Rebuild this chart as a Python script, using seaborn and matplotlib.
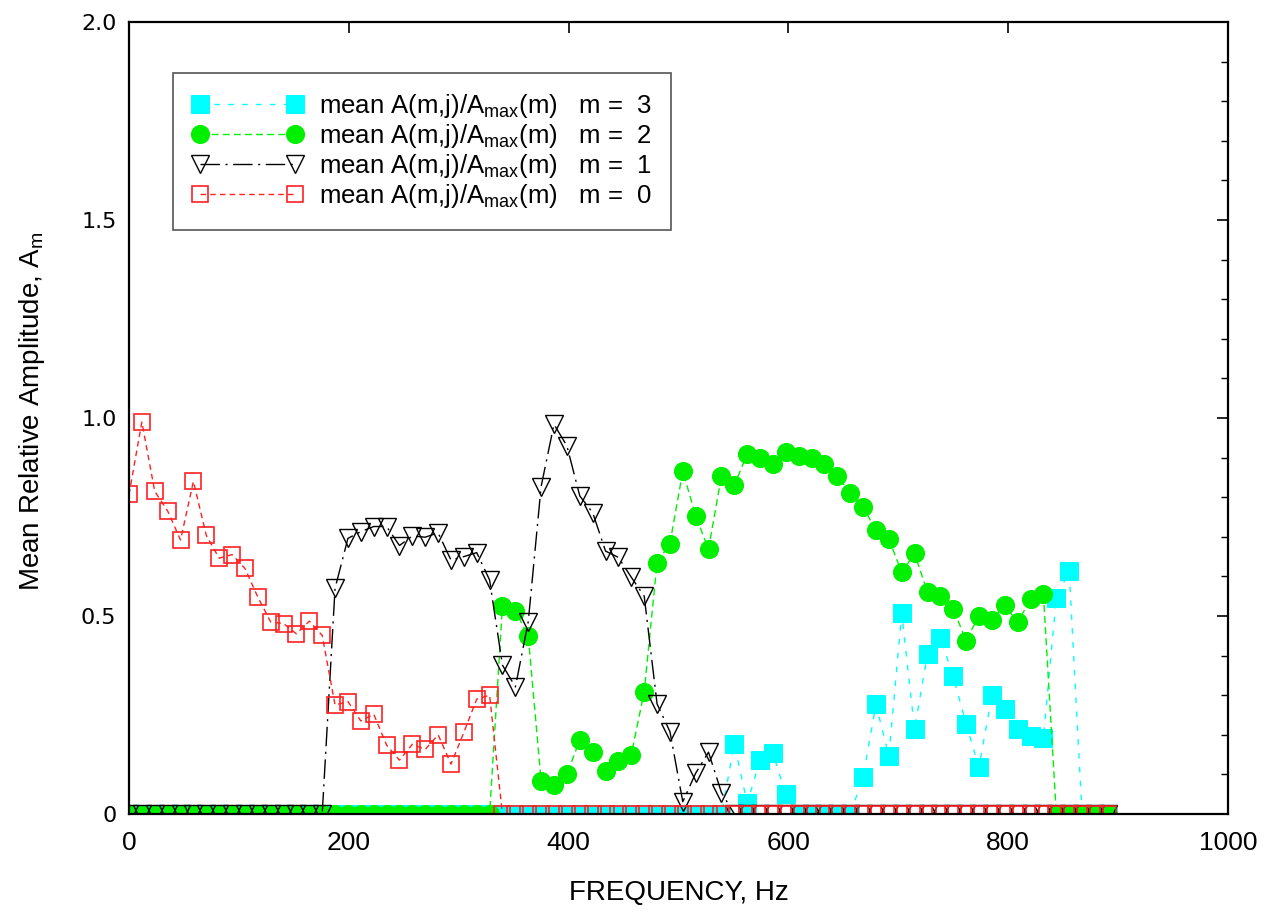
import numpy as np
import pandas as pd
import matplotlib
matplotlib.use("Agg")
import matplotlib.pyplot as plt
from matplotlib.ticker import MultipleLocator, FixedLocator, FuncFormatter
import seaborn as sns

# ---- data -------------------------------------------------------------
freq_hz = [0.0, 11.7, 23.4, 35.2, 46.9, 58.6, 70.3, 82.0, 93.8, 105.5,
           117.2, 128.9, 140.6, 152.3, 164.1, 175.8, 187.5, 199.2, 210.9, 222.7,
           234.4, 246.1, 257.8, 269.5, 281.3, 293.0, 304.7, 316.4, 328.1, 339.8,
           351.6, 363.3, 375.0, 386.7, 398.4, 410.2, 421.9, 433.6, 445.3, 457.0,
           468.8, 480.5, 492.2, 503.9, 515.6, 527.3, 539.1, 550.8, 562.5, 574.2,
           585.9, 597.7, 609.4, 621.1, 632.8, 644.5, 656.3, 668.0, 679.7, 691.4,
           703.1, 714.8, 726.6, 738.3, 750.0, 761.7, 773.4, 785.2, 796.9, 808.6,
           820.3, 832.0, 843.8, 855.5, 867.2, 878.9, 890.6]

amp_m0 = [0.807, 0.99, 0.815, 0.765, 0.692, 0.84, 0.704, 0.646, 0.655, 0.62,
          0.548, 0.485, 0.481, 0.455, 0.487, 0.451, 0.275, 0.284, 0.235, 0.252,
          0.174, 0.136, 0.176, 0.163, 0.20, 0.126, 0.206, 0.29, 0.30, 0.0,
          0.0, 0.0, 0.0, 0.0, 0.0, 0.0, 0.0, 0.0, 0.0, 0.0,
          0.0, 0.0, 0.0, 0.0, 0.0, 0.0, 0.0, 0.0, 0.0, 0.0,
          0.0, 0.0, 0.0, 0.0, 0.0, 0.0, 0.0, 0.0, 0.0, 0.0,
          0.0, 0.0, 0.0, 0.0, 0.0, 0.0, 0.0, 0.0, 0.0, 0.0,
          0.0, 0.0, 0.0, 0.0, 0.0, 0.0, 0.0]

amp_m1 = [0.0, 0.0, 0.0, 0.0, 0.0, 0.0, 0.0, 0.0, 0.0, 0.0,
          0.0, 0.0, 0.0, 0.0, 0.0, 0.0, 0.57, 0.696, 0.713, 0.726,
          0.726, 0.678, 0.702, 0.699, 0.71, 0.641, 0.65, 0.66, 0.591, 0.376,
          0.321, 0.486, 0.827, 0.984, 0.93, 0.803, 0.761, 0.664, 0.648, 0.598,
          0.55, 0.278, 0.208, 0.031, 0.103, 0.156, 0.054, 0.0, 0.0, 0.0,
          0.0, 0.0, 0.0, 0.0, 0.0, 0.0, 0.0, 0.0, 0.0, 0.0,
          0.0, 0.0, 0.0, 0.0, 0.0, 0.0, 0.0, 0.0, 0.0, 0.0,
          0.0, 0.0, 0.0, 0.0, 0.0, 0.0, 0.0]

amp_m2 = [0.0, 0.0, 0.0, 0.0, 0.0, 0.0, 0.0, 0.0, 0.0, 0.0,
          0.0, 0.0, 0.0, 0.0, 0.0, 0.0, 0.0, 0.0, 0.0, 0.0,
          0.0, 0.0, 0.0, 0.0, 0.0, 0.0, 0.0, 0.0, 0.0, 0.524,
          0.513, 0.449, 0.083, 0.072, 0.10, 0.187, 0.156, 0.109, 0.134, 0.149,
          0.309, 0.635, 0.683, 0.866, 0.753, 0.669, 0.854, 0.830, 0.909, 0.898,
          0.883, 0.915, 0.905, 0.898, 0.884, 0.854, 0.81, 0.775, 0.717, 0.695,
          0.61, 0.658, 0.56, 0.55, 0.518, 0.438, 0.501, 0.49, 0.527, 0.484,
          0.542, 0.556, 0.0, 0.0, 0.0, 0.0, 0.0]

amp_m3 = [0.0, 0.0, 0.0, 0.0, 0.0, 0.0, 0.0, 0.0, 0.0, 0.0,
          0.0, 0.0, 0.0, 0.0, 0.0, 0.0, 0.0, 0.0, 0.0, 0.0,
          0.0, 0.0, 0.0, 0.0, 0.0, 0.0, 0.0, 0.0, 0.0, 0.0,
          0.0, 0.0, 0.0, 0.0, 0.0, 0.0, 0.0, 0.0, 0.0, 0.0,
          0.0, 0.0, 0.0, 0.0, 0.0, 0.0, 0.0, 0.177, 0.027, 0.136,
          0.153, 0.05, 0.0, 0.0, 0.0, 0.0, 0.0, 0.094, 0.277, 0.146,
          0.507, 0.214, 0.404, 0.444, 0.348, 0.227, 0.118, 0.30, 0.265, 0.215,
          0.197, 0.193, 0.546, 0.613, 0.0, 0.0, 0.0]

legend_labels = [r"mean A(m,j)/A$_{\mathrm{max}}$(m)   m =  3",
                 r"mean A(m,j)/A$_{\mathrm{max}}$(m)   m =  2",
                 r"mean A(m,j)/A$_{\mathrm{max}}$(m)   m =  1",
                 r"mean A(m,j)/A$_{\mathrm{max}}$(m)   m =  0"]

x_ticks = [0, 200, 400, 600, 800, 1000]
y_ticks = [0, 0.5, 1.0, 1.5, 2.0]

# ---- style ------------------------------------------------------------
sns.set_style("white")
plt.rcParams["font.family"] = ["Liberation Sans", "DejaVu Sans"]
plt.rcParams["mathtext.fontset"] = "custom"
plt.rcParams["mathtext.rm"] = "Liberation Sans"
plt.rcParams["mathtext.it"] = "Liberation Sans"
for k in ["text.color", "axes.labelcolor", "xtick.color", "ytick.color",
          "axes.edgecolor"]:
    plt.rcParams[k] = "black"

fig = plt.figure(figsize=(12.71, 9.13), dpi=100)
ax = fig.add_axes([129 / 1271, 1 - 814 / 913, 1099 / 1271, 792 / 913])

df = pd.DataFrame({"freq": freq_hz, "m0": amp_m0, "m1": amp_m1,
                   "m2": amp_m2, "m3": amp_m3})

series = [
    ("m3", legend_labels[0], dict(color="#00ffff", marker="s", markersize=12.5,
                                  markerfacecolor="#00ffff", markeredgecolor="#00ffff",
                                  linestyle=(0, (4, 6)), linewidth=1.0)),
    ("m2", legend_labels[1], dict(color="#00f000", marker="o", markersize=13,
                                  markerfacecolor="#00f000", markeredgecolor="#00f000",
                                  linestyle=(0, (5, 3)), linewidth=1.0)),
    ("m1", legend_labels[2], dict(color="black", marker="v", markersize=13,
                                  markerfacecolor="none", markeredgecolor="black",
                                  markeredgewidth=1.0,
                                  linestyle=(0, (14, 4, 1.5, 4)), linewidth=1.0)),
    ("m0", legend_labels[3], dict(color="#ff2020", marker="s", markersize=12,
                                  markerfacecolor="none", markeredgecolor="#ff2020",
                                  markeredgewidth=1.2,
                                  linestyle=(0, (4, 3)), linewidth=1.0)),
]

for col, lab, kw in series:
    sns.lineplot(data=df, x="freq", y=col, ax=ax, label=lab, **kw)

ax.set_xlim(0, 1000)
ax.set_ylim(0, 2.0)
ax.xaxis.set_major_locator(FixedLocator(x_ticks))
ax.yaxis.set_major_locator(FixedLocator(y_ticks))
ax.yaxis.set_minor_locator(MultipleLocator(0.1))
ax.yaxis.set_major_formatter(FuncFormatter(lambda v, p: "0" if v == 0 else f"{v:.1f}"))

ax.tick_params(axis="both", which="both", direction="in", top=True, right=True,
               colors="black")
ax.tick_params(axis="both", which="major", length=8, width=1.2)
ax.tick_params(axis="y", which="minor", length=5, width=1.0)
ax.tick_params(axis="x", which="major", labelsize=19, pad=12)
ax.tick_params(axis="y", which="major", labelsize=16, pad=9)
for t in ax.get_yticklabels():
    t.set_fontfamily("DejaVu Sans")
for sp in ax.spines.values():
    sp.set_linewidth(1.6)
    sp.set_color("black")

ax.set_xlabel("FREQUENCY, Hz", fontsize=20, color="black")
ax.xaxis.set_label_coords(0.5, -0.083)
ax.set_ylabel(r"Mean Relative Amplitude, A$_{\mathrm{m}}$", fontsize=20, color="black")
ax.yaxis.set_label_coords(-0.0746, 0.509)

leg = ax.legend(loc="upper left", bbox_to_anchor=(0.040, 0.9356), borderaxespad=0,
                numpoints=2, handlelength=4.3, handletextpad=0.63, fontsize=18.5,
                labelspacing=0.08, borderpad=0.75, fancybox=False, frameon=True,
                edgecolor="#555555", framealpha=1)
leg.get_frame().set_linewidth(1.2)

fig.savefig("out.png", dpi=100)
